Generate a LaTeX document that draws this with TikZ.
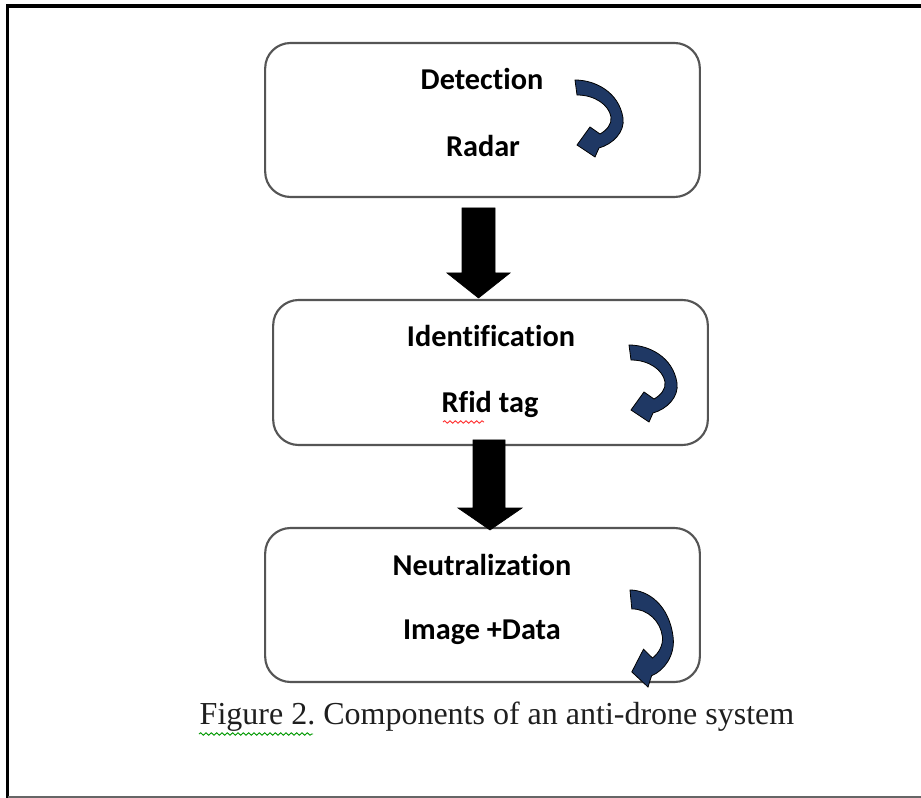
\documentclass[tikz,border=0pt]{standalone}
\usepackage{fontspec}
\setmainfont{Liberation Serif}
\newfontfamily\boxfont[Ligatures=NoCommon]{Carlito}
\usetikzlibrary{decorations.pathmorphing}
\definecolor{navy}{HTML}{1F3864}
\definecolor{boxline}{HTML}{555555}
\frenchspacing
\tikzset{
  stagebox/.style={draw=boxline, line width=1.6pt, rounded corners=19pt, fill=white,
    minimum width=326pt, inner sep=0pt},
  lbl/.style={font=\boxfont\bfseries\fontsize{22.7}{26}\selectfont, text=black, inner sep=0pt},
  blockarrow/.style={fill=black, draw=black, line width=0.5pt},
  squig/.style={decorate, decoration={snake, amplitude=0.9pt, segment length=4pt}, line width=0.7pt},
  curarrow/.pic={
    \fill[navy, draw=black, line width=0.6pt]
      (0,0) .. controls (20,0) and (44,12) .. (48,38)
      .. controls (50,52) and (38,64) .. (24,68)
      -- (20,77) -- (2,65) -- (15,47) -- (25,54)
      .. controls (32,50) and (37,44) .. (36,37)
      .. controls (34,25) and (20,15) .. (2,15) -- cycle;
  }
}
\begin{document}
\begin{tikzpicture}[x=0.75pt, y=-0.75pt]
\useasboundingbox (0,0) rectangle (921,798);
\fill[white] (0,0) rectangle (921,798);
% frame
\draw[black, line width=2.6pt] (7.5,798) -- (7.5,6) -- (921,6);
\draw[gray!80!black, line width=1.6pt] (7.5,797) -- (921,797);
% boxes
\node[stagebox, minimum height=115.5pt] (b1) at (482.5,120) {};
\node[stagebox, minimum height=108.75pt] (b2) at (490.5,372.5) {};
\node[stagebox, minimum height=115.5pt] (b3) at (482.5,605) {};
% labels
\node[lbl] (t1) at (482,79) {Detection};
\node[lbl] (s1) at (483,146) {Radar};
\node[lbl] (t2) at (491,336) {Identification};
\node[lbl] (s2) at (490,404) {Rfid tag};
\node[lbl] (t3) at (482,565) {Neutralization};
\node[lbl] (s3) at (482,632) {Image +Data};
% squiggles
\draw[red!80, squig] (443,422) -- (484,422);
\draw[green!60!black, squig] (199,734) -- (313,734);
% block arrows
\fill[blockarrow] (462,208) -- (495,208) -- (495,273) -- (510,273) -- (478.5,298) -- (447,273) -- (462,273) -- cycle;
\fill[blockarrow] (473,440) -- (505,440) -- (505,508) -- (522,508) -- (490,530) -- (458,508) -- (473,508) -- cycle;
% curved arrows
\pic at (575,80) {curarrow};
\pic at (629,345) {curarrow};
\pic[xscale=0.9, yscale=1.26] at (630,590) {curarrow};
% caption
\node[font=\fontsize{24}{28}\selectfont, text=black!88, inner sep=0pt] (cap) at (497,717) {Figure 2. Components of an anti-drone system};
\end{tikzpicture}
\end{document}
